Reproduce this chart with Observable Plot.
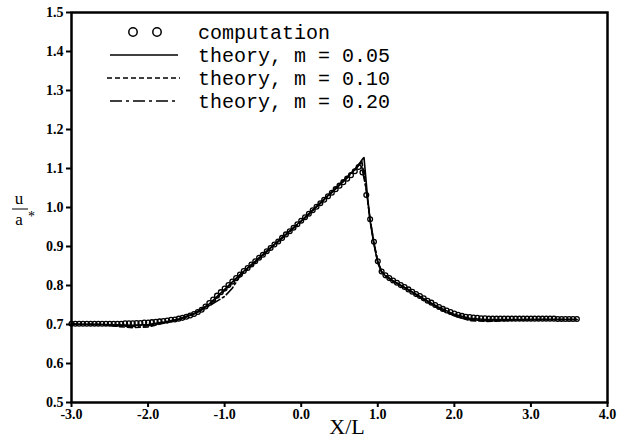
<!DOCTYPE html>
<html>
<head>
<meta charset="utf-8">
<script src="https://cdn.jsdelivr.net/npm/d3@7"></script>
<script src="https://cdn.jsdelivr.net/npm/@observablehq/plot@0.6"></script>
<style>
  html, body { margin: 0; padding: 0; background: #fff; }
  #chart { width: 634px; height: 440px; }
</style>
</head>
<body>
<div id="chart"></div>
<script>
// ---- tick values & labels ----
const xTicks = [-3, -2, -1, 0, 1, 2, 3, 4];
const xTickLabels = ["-3.0", "-2.0", "-1.0", "0.0", "1.0", "2.0", "3.0", "4.0"];
const yTicks = [0.5, 0.6, 0.7, 0.8, 0.9, 1.0, 1.1, 1.2, 1.3, 1.4, 1.5];
const yTickLabels = ["0.5", "0.6", "0.7", "0.8", "0.9", "1.0", "1.1", "1.2", "1.3", "1.4", "1.5"];

// ---- legend labels ----
const seriesNames = ["computation", "theory, m = 0.05", "theory, m = 0.10", "theory, m = 0.20"];

// ---- computation (open circles) ----
const compX = [
  -3.00,-2.95,-2.90,-2.85,-2.80,-2.75,-2.70,-2.65,-2.60,-2.55,-2.50,-2.45,-2.40,-2.35,-2.30,-2.25,-2.20,-2.15,-2.10,-2.05,
  -2.00,-1.95,-1.90,-1.85,-1.80,-1.75,-1.70,-1.65,-1.60,-1.55,-1.50,-1.45,-1.40,-1.35,-1.30,-1.25,-1.20,-1.15,-1.10,-1.05,
  -1.00,-0.95,-0.90,-0.85,-0.80,-0.75,-0.70,-0.65,-0.60,-0.55,-0.50,-0.45,-0.40,-0.35,-0.30,-0.25,-0.20,-0.15,-0.10,-0.05,
  0.00,0.05,0.10,0.15,0.20,0.25,0.30,0.35,0.40,0.45,0.50,0.55,0.60,0.65,0.70,0.75,0.80,0.85,0.90,0.95,
  1.00,1.05,1.10,1.15,1.20,1.25,1.30,1.35,1.40,1.45,1.50,1.55,1.60,1.65,1.70,1.75,1.80,1.85,1.90,1.95,
  2.00,2.05,2.10,2.15,2.20,2.25,2.30,2.35,2.40,2.45,2.50,2.55,2.60,2.65,2.70,2.75,2.80,2.85,2.90,2.95,
  3.00,3.05,3.10,3.15,3.20,3.25,3.30,3.35,3.40,3.45,3.50,3.55,3.60
];
const compU = [
  0.702,0.702,0.702,0.702,0.702,0.702,0.702,0.702,0.702,0.702,0.702,0.702,0.702,0.702,0.703,0.703,0.703,0.704,0.704,0.705,
  0.705,0.706,0.707,0.708,0.709,0.710,0.712,0.713,0.715,0.717,0.720,0.723,0.727,0.732,0.738,0.746,0.755,0.764,0.774,0.783,
  0.792,0.801,0.810,0.819,0.828,0.837,0.845,0.854,0.862,0.871,0.879,0.888,0.896,0.905,0.913,0.922,0.931,0.939,0.948,0.957,
  0.966,0.975,0.984,0.993,1.002,1.011,1.020,1.029,1.038,1.047,1.056,1.065,1.074,1.083,1.093,1.104,1.090,1.032,0.970,0.912,
  0.862,0.836,0.826,0.819,0.813,0.807,0.801,0.796,0.790,0.784,0.778,0.773,0.767,0.761,0.756,0.750,0.745,0.740,0.736,0.732,
  0.728,0.725,0.722,0.720,0.719,0.718,0.717,0.716,0.716,0.715,0.715,0.715,0.715,0.715,0.715,0.715,0.715,0.715,0.715,0.715,
  0.715,0.715,0.715,0.715,0.715,0.715,0.715,0.714,0.714,0.714,0.714,0.714,0.714
];

// ---- theory, m = 0.05 (solid) ----
const th05X = [-3.0,-2.6,-2.4,-2.2,-2.0,-1.8,-1.6,-1.4,-1.2,-1.0,-0.8,-0.4,0.0,0.4,0.6,0.7,0.75,0.8,0.82,0.86,0.9,0.95,1.0,1.05,1.1,1.2,1.4,1.6,1.8,2.0,2.2,2.4,2.8,3.2,3.6];
const th05U = [0.700,0.700,0.699,0.698,0.700,0.706,0.714,0.728,0.753,0.790,0.828,0.897,0.966,1.040,1.078,1.098,1.110,1.124,1.128,1.040,0.965,0.905,0.858,0.834,0.825,0.812,0.789,0.766,0.744,0.726,0.716,0.713,0.713,0.713,0.713];

// ---- theory, m = 0.10 (dashed) ----
const th10X = [-3.0,-2.6,-2.4,-2.2,-2.0,-1.8,-1.6,-1.4,-1.2,-1.0,-0.8,-0.4,0.0,0.4,0.6,0.7,0.79,0.84,0.9,0.95,1.0,1.05,1.1,1.2,1.4,1.6,1.8,2.0,2.2,2.4,2.6,2.8,3.2,3.6];
const th10U = [0.701,0.700,0.695,0.692,0.694,0.703,0.713,0.727,0.751,0.788,0.827,0.896,0.965,1.039,1.077,1.097,1.120,1.060,0.968,0.908,0.860,0.835,0.824,0.811,0.788,0.764,0.741,0.722,0.710,0.708,0.709,0.712,0.713,0.713];

// ---- theory, m = 0.20 (dash-dot) ----
const th20X = [-3.0,-2.6,-2.4,-2.2,-2.0,-1.8,-1.6,-1.4,-1.2,-1.1,-1.0,-0.9,-0.8,-0.4,0.0,0.4,0.6,0.7,0.78,0.84,0.9,0.95,1.0,1.05,1.1,1.2,1.4,1.6,1.8,2.0,2.2,2.4,2.8,3.2,3.6];
const th20U = [0.701,0.700,0.697,0.695,0.697,0.704,0.713,0.726,0.748,0.760,0.772,0.793,0.824,0.895,0.964,1.038,1.076,1.096,1.115,1.055,0.970,0.910,0.862,0.837,0.826,0.812,0.789,0.765,0.742,0.724,0.712,0.710,0.712,0.713,0.713];

const toRows = (xs, us) => xs.map((x, i) => ({x, u: us[i]}));
const comp = toRows(compX, compU);
const th05 = toRows(th05X, th05U);
const th10 = toRows(th10X, th10U);
const th20 = toRows(th20X, th20U);

const tickFont = {fontSize: 14, fontWeight: "bold"};

const plot = Plot.plot({
  width: 634,
  height: 440,
  marginLeft: 71,
  marginRight: 27,
  marginTop: 12,
  marginBottom: 38,
  style: {fontFamily: "Liberation Serif", background: "#fff", color: "#000"},
  x: {domain: [-3, 4]},
  y: {domain: [0.5, 1.5]},
  marks: [
    Plot.line(th05, {x: "x", y: "u", stroke: "#000", strokeWidth: 1.6}),
    Plot.line(th10, {x: "x", y: "u", stroke: "#000", strokeWidth: 1.6, strokeDasharray: "5,3"}),
    Plot.line(th20, {x: "x", y: "u", stroke: "#000", strokeWidth: 1.6, strokeDasharray: "10,3,2,3"}),
    Plot.dot(comp, {x: "x", y: "u", r: 2.4, stroke: "#000", strokeWidth: 1.3, fill: "none"}),
    Plot.axisX({ticks: xTicks, tickFormat: d => xTickLabels[xTicks.indexOf(d)], tickSize: 5, tickPadding: 2,
      strokeWidth: 2, label: null, ...tickFont}),
    Plot.axisY({ticks: yTicks, tickFormat: d => yTickLabels[yTicks.findIndex(t => Math.abs(t - d) < 1e-9)], tickSize: 5, tickPadding: 3,
      strokeWidth: 2, label: null, ...tickFont}),
    Plot.frame({stroke: "#000", strokeWidth: 2.5})
  ]
});

document.getElementById("chart").appendChild(plot);

// ---- legend, axis titles (decorations) ----
const svg = d3.select(plot);
const g = svg.append("g").attr("fill", "none").attr("stroke", "#000");
// computation circles
g.append("circle").attr("cx", 133).attr("cy", 32).attr("r", 4.2).attr("stroke-width", 1.5);
g.append("circle").attr("cx", 157).attr("cy", 32).attr("r", 4.2).attr("stroke-width", 1.5);
// solid
g.append("line").attr("x1", 110).attr("x2", 178).attr("y1", 55).attr("y2", 55).attr("stroke-width", 1.5);
// dashed
g.append("line").attr("x1", 107).attr("x2", 180).attr("y1", 78).attr("y2", 78).attr("stroke-width", 1.5).attr("stroke-dasharray", "5,3");
// dash-dot
g.append("line").attr("x1", 110).attr("x2", 178).attr("y1", 101).attr("y2", 101).attr("stroke-width", 1.5).attr("stroke-dasharray", "12,4,3,4");

const legendY = [32, 55, 78, 101];
seriesNames.forEach((name, i) => {
  svg.append("text")
    .attr("x", 198).attr("y", legendY[i]).attr("dy", "0.35em")
    .attr("text-anchor", "start")
    .attr("font-family", "Liberation Mono").attr("font-size", 20).attr("fill", "#000")
    .text(name);
});

// x axis title
svg.append("text").attr("x", 347).attr("y", 434)
  .attr("text-anchor", "middle").attr("font-family", "Liberation Serif").attr("font-size", 22).attr("fill", "#000")
  .text("X/L");

// y axis title: u / a*
const yl = svg.append("g").attr("font-family", "Liberation Serif").attr("fill", "#000");
yl.append("text").attr("x", 19).attr("y", 204).attr("text-anchor", "middle").attr("font-size", 17).text("u");
yl.append("line").attr("x1", 12).attr("x2", 28).attr("y1", 209).attr("y2", 209).attr("stroke", "#000").attr("stroke-width", 1);
yl.append("text").attr("x", 19).attr("y", 225).attr("text-anchor", "middle").attr("font-size", 17).text("a");
yl.append("text").attr("x", 28).attr("y", 221).attr("text-anchor", "start").attr("font-size", 14).text("*");
</script>
</body>
</html>
